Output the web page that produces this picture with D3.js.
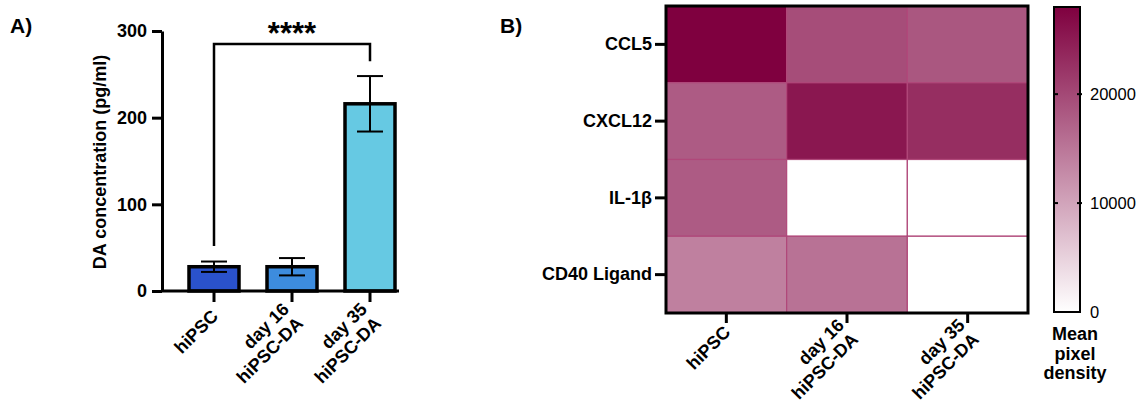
<!DOCTYPE html>
<meta charset="utf-8">
<style>
body { margin: 0; background: #fff; }
svg { font-family: "Liberation Sans", Arial, sans-serif; }
.axis path, .axis line { fill: none; stroke: #000; stroke-width: 3px; }
.axis text { font-size: 18px; font-weight: bold; fill: #000; }
.lbl { font-size: 18px; font-weight: bold; }
</style>
<body>
<script src="https://d3js.org/d3.v7.min.js"></script>
<script>

//
// Data
//

// panel A: DA concentration
var groups = [["hiPSC"], ["day 16", "hiPSC-DA"], ["day 35", "hiPSC-DA"]];
var daMean = [28, 28, 216];
var daErr = [6, 10, 32];
var daTicks = [0, 100, 200, 300];

// panel B: heatmap
var cytokines = ["CCL5", "CXCL12", "IL-1β", "CD40 Ligand"];
var stages = ["hiPSC", "day 16 hiPSC-DA", "day 35 hiPSC-DA"];
var density = [
  [28000, 19500, 18500],
  [18000, 25500, 23000],
  [18000, 0, 0],
  [14000, 15500, 0]
];
var densityTicks = [0, 10000, 20000];

var svg = d3.select("body").append("svg")
    .attr("width", 1137)
    .attr("height", 406);

// rotated multi-line tick label
function tiltLabel(g, lines, x, y) {
  var t = g.append("text")
      .attr("transform", "translate(" + x + "," + y + ") rotate(-45)")
      .attr("text-anchor", "end")
      .attr("class", "lbl");
  lines.forEach(function(s, i) {
    t.append("tspan")
        .attr("x", -3)
        .attr("y", (i - (lines.length - 1) / 2) * 20 + 6)
        .text(s);
  });
}

//
// Panel A
//

var yA = d3.scaleLinear().domain([0, 300]).range([291, 31]);
var xA = d3.scalePoint().domain(d3.range(groups.length)).range([214, 370]);
var barColor = d3.scaleOrdinal().domain(d3.range(3)).range(["#2a52cc", "#3d8cde", "#66c9e3"]);

var pA = svg.append("g");

pA.append("text").attr("x", 10).attr("y", 33)
    .attr("font-size", 21).attr("font-weight", "bold").text("A)");

pA.append("g")
    .attr("class", "axis")
    .attr("transform", "translate(162,0)")
    .call(d3.axisLeft(yA).tickValues(daTicks).tickSize(10).tickSizeOuter(0).tickPadding(5));

pA.append("text")
    .attr("class", "lbl")
    .attr("transform", "translate(106,162) rotate(-90)")
    .attr("text-anchor", "middle")
    .attr("font-size", 17.5)
    .text("DA concentration (pg/ml)");

var bw = 50;
pA.selectAll(".bar").data(daMean).enter()
  .append("rect")
    .attr("class", "bar")
    .attr("x", function(d, i) { return xA(i) - bw / 2; })
    .attr("y", function(d) { return yA(d); })
    .attr("width", bw)
    .attr("height", function(d) { return yA(0) - yA(d); })
    .attr("fill", function(d, i) { return barColor(i); })
    .attr("stroke", "#000")
    .attr("stroke-width", 3.5);

var eb = pA.selectAll(".err").data(daMean).enter().append("g")
    .attr("stroke", "#000").attr("stroke-width", 2);
eb.append("line")
    .attr("x1", function(d, i) { return xA(i); })
    .attr("x2", function(d, i) { return xA(i); })
    .attr("y1", function(d, i) { return yA(d + daErr[i]); })
    .attr("y2", function(d, i) { return yA(d - daErr[i]); });
[1, -1].forEach(function(s) {
  eb.append("line")
      .attr("x1", function(d, i) { return xA(i) - 13; })
      .attr("x2", function(d, i) { return xA(i) + 13; })
      .attr("y1", function(d, i) { return yA(d + s * daErr[i]); })
      .attr("y2", function(d, i) { return yA(d + s * daErr[i]); });
});

// x axis
var xAx = pA.append("g").attr("class", "axis");
xAx.append("line").attr("x1", 162).attr("x2", 399).attr("y1", yA(0)).attr("y2", yA(0));
groups.forEach(function(g, i) {
  xAx.append("line").attr("x1", xA(i)).attr("x2", xA(i)).attr("y1", yA(0)).attr("y2", yA(0) + 11);
  tiltLabel(pA, g, xA(i) + 3, yA(0) + 20);
});

// significance bracket
var br = yA(285);
pA.append("path")
    .attr("d", "M" + xA(0) + "," + yA(52) + "V" + br + "H" + xA(2) + "V" + yA(265))
    .attr("fill", "none").attr("stroke", "#000").attr("stroke-width", 2.5);
pA.append("text")
    .attr("x", (xA(0) + xA(2)) / 2).attr("y", 44)
    .attr("text-anchor", "middle")
    .attr("font-size", 31).attr("font-weight", "bold")
    .text("****");

//
// Panel B
//

var xB = d3.scaleBand().domain(stages).range([666, 1028]);
var yB = d3.scaleBand().domain(cytokines).range([6, 313]);
var heat = d3.scaleLinear().domain([0, 28000]).range(["#ffffff", "#7f003f"]);

var pB = svg.append("g");

pB.append("text").attr("x", 500).attr("y", 33)
    .attr("font-size", 21).attr("font-weight", "bold").text("B)");

var cells = [];
density.forEach(function(row, r) {
  row.forEach(function(v, c) { cells.push({r: cytokines[r], c: stages[c], v: v}); });
});

pB.selectAll(".cell").data(cells).enter()
  .append("rect")
    .attr("class", "cell")
    .attr("x", function(d) { return xB(d.c); })
    .attr("y", function(d) { return yB(d.r); })
    .attr("width", xB.bandwidth())
    .attr("height", yB.bandwidth())
    .attr("fill", function(d) { return heat(d.v); })
    .attr("stroke", "#b0487a")
    .attr("stroke-width", 1.2);

pB.append("rect")
    .attr("x", 666).attr("y", 6).attr("width", 362).attr("height", 307)
    .attr("fill", "none").attr("stroke", "#000").attr("stroke-width", 3);

var yAxB = pB.append("g")
    .attr("class", "axis")
    .attr("transform", "translate(666,0)")
    .call(d3.axisLeft(yB).tickSize(11).tickSizeOuter(0).tickPadding(3));
yAxB.select(".domain").remove();

var xAxB = pB.append("g")
    .attr("class", "axis")
    .attr("transform", "translate(0,313)")
    .call(d3.axisBottom(xB).tickSize(10).tickSizeOuter(0).tickFormat(""));
xAxB.select(".domain").remove();
groups.forEach(function(g, i) {
  tiltLabel(pB, g, xB(stages[i]) + xB.bandwidth() / 2 + 3, 313 + 14);
});

// colour bar
var yC = d3.scaleLinear().domain([0, 28000]).range([312, 7]);
var grad = svg.append("defs").append("linearGradient")
    .attr("id", "cbar").attr("x1", 0).attr("x2", 0).attr("y1", 1).attr("y2", 0);
grad.append("stop").attr("offset", 0).attr("stop-color", heat(0));
grad.append("stop").attr("offset", 1).attr("stop-color", heat(28000));

pB.append("rect")
    .attr("x", 1054).attr("y", yC(28000)).attr("width", 26).attr("height", yC(0) - yC(28000))
    .attr("fill", "url(#cbar)").attr("stroke", "#000").attr("stroke-width", 2);

densityTicks.forEach(function(t) {
  if (t > 0) {
    pB.append("line").attr("x1", 1054).attr("x2", 1058).attr("y1", yC(t)).attr("y2", yC(t))
        .attr("stroke", "#000").attr("stroke-width", 2);
    pB.append("line").attr("x1", 1077).attr("x2", 1082).attr("y1", yC(t)).attr("y2", yC(t))
        .attr("stroke", "#000").attr("stroke-width", 2);
  }
  pB.append("text")
      .attr("x", 1090).attr("y", yC(t)).attr("dy", "0.35em")
      .attr("font-size", 16.5)
      .text(t);
});

["Mean", "pixel", "density"].forEach(function(s, i) {
  pB.append("text")
      .attr("class", "lbl")
      .attr("x", 1075).attr("y", 340 + i * 19.5)
      .attr("text-anchor", "middle")
      .attr("font-size", 16.5)
      .text(s);
});

</script>
</body>
